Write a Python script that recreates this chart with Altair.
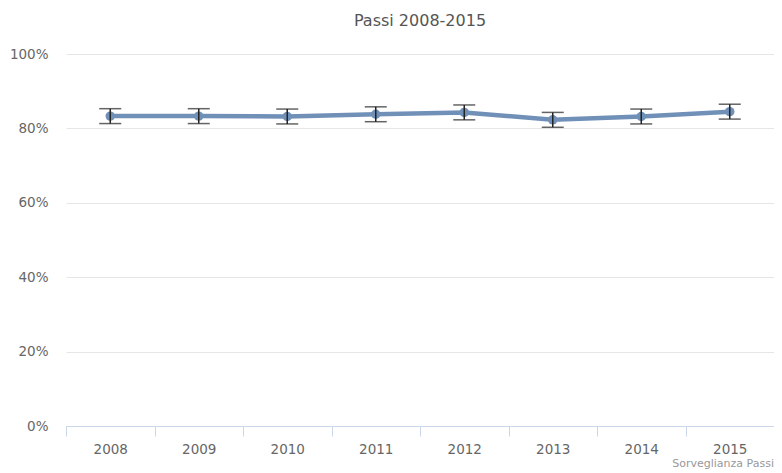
import altair as alt
import pandas as pd

years = ["2008", "2009", "2010", "2011", "2012", "2013", "2014", "2015"]
values = [0.833, 0.833, 0.832, 0.838, 0.843, 0.823, 0.832, 0.845]
lower = [0.813, 0.813, 0.812, 0.818, 0.823, 0.803, 0.812, 0.825]
upper = [0.853, 0.853, 0.852, 0.858, 0.863, 0.843, 0.852, 0.865]

df = pd.DataFrame({"year": years, "value": values, "lo": lower, "hi": upper})

W, H = 708, 372
FONT = "DejaVu Sans"
LINE = "#7090b8"

x = alt.X("year:N", sort=years, title=None,
          scale=alt.Scale(paddingInner=0, paddingOuter=0),
          axis=alt.Axis(tickBand="extent", labelAngle=0, domainColor="#ccd6eb",
                        tickColor="#ccd6eb", tickSize=10, labelPadding=6,
                        labelFont=FONT, labelFontSize=13.5, labelColor="#666666",
                        grid=False))
y_axis = alt.Axis(format=".0%", values=[0, 0.2, 0.4, 0.6, 0.8, 1.0], domain=False,
                  ticks=False, labelPadding=18, labelFont=FONT, labelFontSize=13.5,
                  labelColor="#666666", gridColor="#e6e6e6", gridWidth=1)
yscale = alt.Scale(domain=[0, 1], nice=False)
y = alt.Y("value:Q", title=None, scale=yscale, axis=y_axis)

base = alt.Chart(df)
line = base.mark_line(color=LINE, strokeWidth=4.5).encode(x=x, y=y)
pts = base.mark_point(filled=True, color=LINE, size=90, opacity=1).encode(x=x, y=y)
rule = base.mark_rule(color="#222222", strokeWidth=1.5).encode(
    x=x, y=alt.Y("lo:Q", title=None, scale=yscale), y2="hi:Q")
tick_lo = base.mark_tick(color="#222222", orient="horizontal", size=22, thickness=1.5).encode(
    x=x, y=alt.Y("lo:Q", title=None, scale=yscale))
tick_hi = base.mark_tick(color="#222222", orient="horizontal", size=22, thickness=1.5).encode(
    x=x, y=alt.Y("hi:Q", title=None, scale=yscale))
credit = alt.Chart(pd.DataFrame({"t": ["Sorveglianza Passi"]})).mark_text(
    align="right", baseline="middle", font=FONT, fontSize=11, color="#999999").encode(
    text="t:N", x=alt.value(W), y=alt.value(H + 38))

chart = alt.layer(line, pts, rule, tick_lo, tick_hi, credit).properties(
    width=W, height=H,
    autosize=alt.AutoSizeParams(type="none"),
    padding={"left": 58, "top": 46, "right": 0, "bottom": 47},
    title=alt.TitleParams("Passi 2008-2015", font=FONT, fontSize=16, fontWeight="normal",
                          color="#555555", offset=18, anchor="middle"),
).configure_view(stroke=None)

chart.save("out.html", embed_options={"renderer": "svg", "actions": False})
